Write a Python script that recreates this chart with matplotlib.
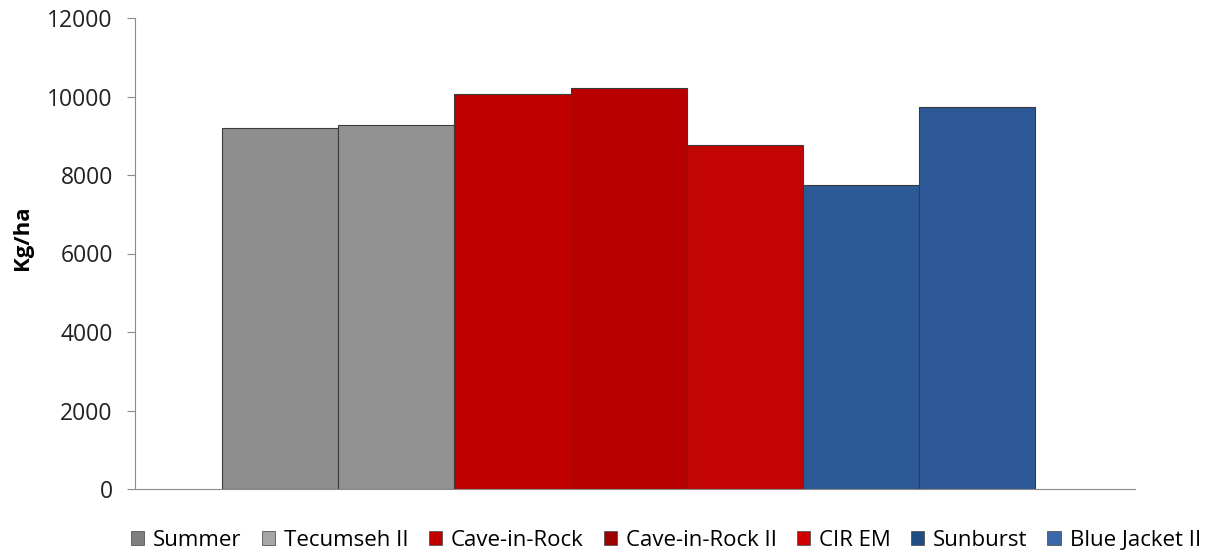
import matplotlib.pyplot as plt
from matplotlib.patches import Patch

CULTIVARS = ["Summer", "Tecumseh II", "Cave-in-Rock", "Cave-in-Rock II",
             "CIR EM", "Sunburst", "Blue Jacket II"]
YIELD_KG_HA = [9200, 9270, 10060, 10220, 8770, 7740, 9730]
BAR_COLORS = ["#8e8e8e", "#929292", "#c00000", "#b80000", "#c20404", "#2b5a97", "#2c5898"]
LEGEND_COLORS = ["#7f7f7f", "#a6a6a6", "#c00000", "#9c0000", "#d00000", "#1f4e85", "#3a68a8"]
Y_TICKS = [0, 2000, 4000, 6000, 8000, 10000, 12000]

plt.rcParams["font.family"] = ["Open Sans", "DejaVu Sans"]

fig = plt.figure(figsize=(12.17, 5.59), dpi=100)
fig.patch.set_facecolor("white")
ax = fig.add_axes([135 / 1217, 1 - 489 / 559, 1000 / 1217, 471 / 559])

x = list(range(len(CULTIVARS)))
ax.bar(x, YIELD_KG_HA, width=1.0, color=BAR_COLORS,
       edgecolor="#3a3a3a", linewidth=0.8, zorder=2)

ax.set_xlim(-1.25, 7.36)
ax.set_ylim(0, 12000)
ax.set_yticks(Y_TICKS)
ax.set_yticklabels([str(t) for t in Y_TICKS], fontsize=16.5, color="#222222")
ax.set_xticks([])
ax.set_ylabel("Kg/ha", fontsize=16, fontweight="bold")
ax.yaxis.set_label_coords(-0.102, 0.533)

for side in ["top", "right"]:
    ax.spines[side].set_visible(False)
ax.spines["left"].set_color("#8a8a8a")
ax.spines["bottom"].set_color("#8a8a8a")
ax.tick_params(axis="y", direction="out", length=6, color="#8a8a8a", pad=10)

handles = [Patch(facecolor=c, edgecolor="#555555", linewidth=0.6) for c in LEGEND_COLORS]
fig.legend(handles, CULTIVARS, loc="center", bbox_to_anchor=(666 / 1217, 1 - 540 / 559),
           ncol=7, frameon=False, fontsize=16, handlelength=0.6, handleheight=0.6,
           handletextpad=0.4, columnspacing=0.9, borderpad=0)

fig.savefig("out.png", dpi=100, facecolor="white")
